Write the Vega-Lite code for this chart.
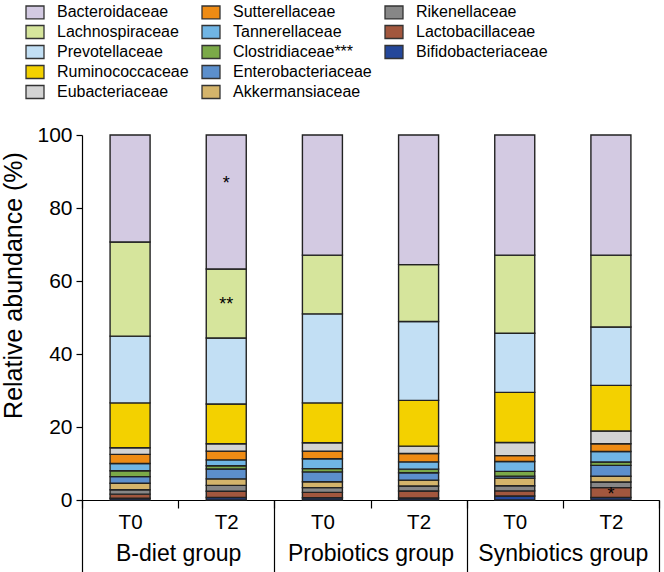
{
  "$schema": "https://vega.github.io/schema/vega-lite/v6.json",
  "width": 577,
  "height": 365,
  "autosize": {"type": "none"},
  "padding": {"left": 82, "top": 135, "right": 5, "bottom": 72},
  "config": {
    "font": "Liberation Sans",
    "view": {"stroke": null},
    "axis": {"labelFont": "Liberation Sans", "titleFont": "Liberation Sans", "labelColor": "#000", "titleColor": "#000", "domainColor": "#000", "tickColor": "#000", "grid": false}
  },
  "data": {
    "values": [
      {"g": "B-diet group", "t": "T0", "f": "Bifidobacteriaceae", "v": 0.5, "sig": ""},
      {"g": "B-diet group", "t": "T0", "f": "Lactobacillaceae", "v": 1.1, "sig": ""},
      {"g": "B-diet group", "t": "T0", "f": "Rikenellaceae", "v": 1.2, "sig": ""},
      {"g": "B-diet group", "t": "T0", "f": "Akkermansiaceae", "v": 1.8, "sig": ""},
      {"g": "B-diet group", "t": "T0", "f": "Enterobacteriaceae", "v": 1.8, "sig": ""},
      {"g": "B-diet group", "t": "T0", "f": "Clostridiaceae***", "v": 1.6, "sig": ""},
      {"g": "B-diet group", "t": "T0", "f": "Tannerellaceae", "v": 2.0, "sig": ""},
      {"g": "B-diet group", "t": "T0", "f": "Sutterellaceae", "v": 2.5, "sig": ""},
      {"g": "B-diet group", "t": "T0", "f": "Eubacteriaceae", "v": 1.8, "sig": ""},
      {"g": "B-diet group", "t": "T0", "f": "Ruminococcaceae", "v": 12.3, "sig": ""},
      {"g": "B-diet group", "t": "T0", "f": "Prevotellaceae", "v": 18.3, "sig": ""},
      {"g": "B-diet group", "t": "T0", "f": "Lachnospiraceae", "v": 25.8, "sig": ""},
      {"g": "B-diet group", "t": "T0", "f": "Bacteroidaceae", "v": 29.3, "sig": ""},

      {"g": "B-diet group", "t": "T2", "f": "Bifidobacteriaceae", "v": 0.7, "sig": ""},
      {"g": "B-diet group", "t": "T2", "f": "Lactobacillaceae", "v": 1.7, "sig": ""},
      {"g": "B-diet group", "t": "T2", "f": "Rikenellaceae", "v": 1.6, "sig": ""},
      {"g": "B-diet group", "t": "T2", "f": "Akkermansiaceae", "v": 1.8, "sig": ""},
      {"g": "B-diet group", "t": "T2", "f": "Enterobacteriaceae", "v": 2.7, "sig": ""},
      {"g": "B-diet group", "t": "T2", "f": "Clostridiaceae***", "v": 0.9, "sig": ""},
      {"g": "B-diet group", "t": "T2", "f": "Tannerellaceae", "v": 1.6, "sig": ""},
      {"g": "B-diet group", "t": "T2", "f": "Sutterellaceae", "v": 2.4, "sig": ""},
      {"g": "B-diet group", "t": "T2", "f": "Eubacteriaceae", "v": 2.0, "sig": ""},
      {"g": "B-diet group", "t": "T2", "f": "Ruminococcaceae", "v": 10.9, "sig": ""},
      {"g": "B-diet group", "t": "T2", "f": "Prevotellaceae", "v": 18.1, "sig": ""},
      {"g": "B-diet group", "t": "T2", "f": "Lachnospiraceae", "v": 18.9, "sig": "**"},
      {"g": "B-diet group", "t": "T2", "f": "Bacteroidaceae", "v": 36.7, "sig": "*"},

      {"g": "Probiotics group", "t": "T0", "f": "Bifidobacteriaceae", "v": 0.6, "sig": ""},
      {"g": "Probiotics group", "t": "T0", "f": "Lactobacillaceae", "v": 1.5, "sig": ""},
      {"g": "Probiotics group", "t": "T0", "f": "Rikenellaceae", "v": 1.3, "sig": ""},
      {"g": "Probiotics group", "t": "T0", "f": "Akkermansiaceae", "v": 1.6, "sig": ""},
      {"g": "Probiotics group", "t": "T0", "f": "Enterobacteriaceae", "v": 2.7, "sig": ""},
      {"g": "Probiotics group", "t": "T0", "f": "Clostridiaceae***", "v": 0.9, "sig": ""},
      {"g": "Probiotics group", "t": "T0", "f": "Tannerellaceae", "v": 2.7, "sig": ""},
      {"g": "Probiotics group", "t": "T0", "f": "Sutterellaceae", "v": 2.1, "sig": ""},
      {"g": "Probiotics group", "t": "T0", "f": "Eubacteriaceae", "v": 2.3, "sig": ""},
      {"g": "Probiotics group", "t": "T0", "f": "Ruminococcaceae", "v": 10.9, "sig": ""},
      {"g": "Probiotics group", "t": "T0", "f": "Prevotellaceae", "v": 24.4, "sig": ""},
      {"g": "Probiotics group", "t": "T0", "f": "Lachnospiraceae", "v": 16.1, "sig": ""},
      {"g": "Probiotics group", "t": "T0", "f": "Bacteroidaceae", "v": 32.9, "sig": ""},

      {"g": "Probiotics group", "t": "T2", "f": "Bifidobacteriaceae", "v": 0.55, "sig": ""},
      {"g": "Probiotics group", "t": "T2", "f": "Lactobacillaceae", "v": 1.9, "sig": ""},
      {"g": "Probiotics group", "t": "T2", "f": "Rikenellaceae", "v": 1.4, "sig": ""},
      {"g": "Probiotics group", "t": "T2", "f": "Akkermansiaceae", "v": 1.6, "sig": ""},
      {"g": "Probiotics group", "t": "T2", "f": "Enterobacteriaceae", "v": 2.0, "sig": ""},
      {"g": "Probiotics group", "t": "T2", "f": "Clostridiaceae***", "v": 1.0, "sig": ""},
      {"g": "Probiotics group", "t": "T2", "f": "Tannerellaceae", "v": 2.0, "sig": ""},
      {"g": "Probiotics group", "t": "T2", "f": "Sutterellaceae", "v": 2.3, "sig": ""},
      {"g": "Probiotics group", "t": "T2", "f": "Eubacteriaceae", "v": 2.0, "sig": ""},
      {"g": "Probiotics group", "t": "T2", "f": "Ruminococcaceae", "v": 12.55, "sig": ""},
      {"g": "Probiotics group", "t": "T2", "f": "Prevotellaceae", "v": 21.6, "sig": ""},
      {"g": "Probiotics group", "t": "T2", "f": "Lachnospiraceae", "v": 15.6, "sig": ""},
      {"g": "Probiotics group", "t": "T2", "f": "Bacteroidaceae", "v": 35.5, "sig": ""},

      {"g": "Synbiotics group", "t": "T0", "f": "Bifidobacteriaceae", "v": 1.1, "sig": ""},
      {"g": "Synbiotics group", "t": "T0", "f": "Lactobacillaceae", "v": 1.4, "sig": ""},
      {"g": "Synbiotics group", "t": "T0", "f": "Rikenellaceae", "v": 1.4, "sig": ""},
      {"g": "Synbiotics group", "t": "T0", "f": "Akkermansiaceae", "v": 2.1, "sig": ""},
      {"g": "Synbiotics group", "t": "T0", "f": "Enterobacteriaceae", "v": 0.55, "sig": ""},
      {"g": "Synbiotics group", "t": "T0", "f": "Clostridiaceae***", "v": 1.3, "sig": ""},
      {"g": "Synbiotics group", "t": "T0", "f": "Tannerellaceae", "v": 2.7, "sig": ""},
      {"g": "Synbiotics group", "t": "T0", "f": "Sutterellaceae", "v": 1.6, "sig": ""},
      {"g": "Synbiotics group", "t": "T0", "f": "Eubacteriaceae", "v": 3.6, "sig": ""},
      {"g": "Synbiotics group", "t": "T0", "f": "Ruminococcaceae", "v": 13.75, "sig": ""},
      {"g": "Synbiotics group", "t": "T0", "f": "Prevotellaceae", "v": 16.2, "sig": ""},
      {"g": "Synbiotics group", "t": "T0", "f": "Lachnospiraceae", "v": 21.4, "sig": ""},
      {"g": "Synbiotics group", "t": "T0", "f": "Bacteroidaceae", "v": 32.9, "sig": ""},

      {"g": "Synbiotics group", "t": "T2", "f": "Bifidobacteriaceae", "v": 0.7, "sig": ""},
      {"g": "Synbiotics group", "t": "T2", "f": "Lactobacillaceae", "v": 2.7, "sig": "*"},
      {"g": "Synbiotics group", "t": "T2", "f": "Rikenellaceae", "v": 1.55, "sig": ""},
      {"g": "Synbiotics group", "t": "T2", "f": "Akkermansiaceae", "v": 1.55, "sig": ""},
      {"g": "Synbiotics group", "t": "T2", "f": "Enterobacteriaceae", "v": 3.0, "sig": ""},
      {"g": "Synbiotics group", "t": "T2", "f": "Clostridiaceae***", "v": 0.9, "sig": ""},
      {"g": "Synbiotics group", "t": "T2", "f": "Tannerellaceae", "v": 2.9, "sig": ""},
      {"g": "Synbiotics group", "t": "T2", "f": "Sutterellaceae", "v": 2.1, "sig": ""},
      {"g": "Synbiotics group", "t": "T2", "f": "Eubacteriaceae", "v": 3.5, "sig": ""},
      {"g": "Synbiotics group", "t": "T2", "f": "Ruminococcaceae", "v": 12.5, "sig": ""},
      {"g": "Synbiotics group", "t": "T2", "f": "Prevotellaceae", "v": 16.0, "sig": ""},
      {"g": "Synbiotics group", "t": "T2", "f": "Lachnospiraceae", "v": 19.7, "sig": ""},
      {"g": "Synbiotics group", "t": "T2", "f": "Bacteroidaceae", "v": 32.9, "sig": ""}
    ]
  },
  "transform": [
    {"calculate": "datum.g + '|' + datum.t", "as": "bar"},
    {"calculate": "indexof(['Bifidobacteriaceae','Lactobacillaceae','Rikenellaceae','Akkermansiaceae','Enterobacteriaceae','Clostridiaceae***','Tannerellaceae','Sutterellaceae','Eubacteriaceae','Ruminococcaceae','Prevotellaceae','Lachnospiraceae','Bacteroidaceae'], datum.f)", "as": "rank"}
  ],
  "layer": [
    {
      "layer": [
        {
          "mark": {"type": "bar", "width": {"band": 0.416}, "stroke": "#222", "strokeWidth": 1.4},
          "encoding": {
            "x": {
              "field": "bar", "type": "nominal",
              "scale": {"domain": ["B-diet group|T0", "B-diet group|T2", "Probiotics group|T0", "Probiotics group|T2", "Synbiotics group|T0", "Synbiotics group|T2"], "paddingInner": 0, "paddingOuter": 0},
              "axis": {"orient": "bottom", "title": null, "labelAngle": 0, "labelExpr": "split(datum.label, '|')[1]", "tickBand": "extent", "tickSize": 8, "tickWidth": 1.2, "domainWidth": 1.2, "labelFontSize": 20.5, "labelPadding": 14, "labelBaseline": "middle"}
            },
            "y": {
              "field": "v", "type": "quantitative", "stack": "zero",
              "scale": {"domain": [0, 100], "nice": false},
              "axis": {"title": "Relative abundance (%)", "titleFontSize": 25, "titleFontWeight": "normal", "titleX": -69, "titleY": 150, "titleBaseline": "middle", "titleAngle": 270, "titleAlign": "center", "values": [0, 20, 40, 60, 80, 100], "labelFontSize": 21, "labelPadding": 4, "tickSize": 6, "tickWidth": 1.2, "domainWidth": 1.2}
            },
            "order": {"field": "rank", "type": "quantitative", "sort": "ascending"},
            "color": {
              "field": "f", "type": "nominal",
              "scale": {
                "domain": ["Bacteroidaceae", "Lachnospiraceae", "Prevotellaceae", "Ruminococcaceae", "Eubacteriaceae", "Sutterellaceae", "Tannerellaceae", "Clostridiaceae***", "Enterobacteriaceae", "Akkermansiaceae", "Rikenellaceae", "Lactobacillaceae", "Bifidobacteriaceae", " "],
                "range": ["#D3CAE2", "#D6E59C", "#C2DFF4", "#F3D100", "#D3D3D3", "#EE8B14", "#70B5E4", "#7BA948", "#5C8FCC", "#D4B46B", "#878787", "#A2573E", "#24479A", "#ffffff"]
              },
              "legend": {
                "title": null,
                "orient": "none",
                "legendX": -57,
                "legendY": -133,
                "columns": 3,
                "columnPadding": 10,
                "rowPadding": -0.5,
                "symbolType": "M-1,-0.72H1V0.72H-1Z",
                "symbolSize": 324,
                "symbolStrokeColor": "#333",
                "symbolStrokeWidth": 1.3,
                "symbolOpacity": 1,
                "labelFontSize": 16,
                "labelLimit": 300,
                "labelColor": "#000",
                "labelOffset": 12,
                "labelFont": "Liberation Sans",
                "encode": {"symbols": {"update": {"strokeOpacity": {"signal": "datum.value === ' ' ? 0 : 1"}}}}
              }
            }
          }
        },
        {
          "transform": [
            {"stack": "v", "groupby": ["bar"], "sort": [{"field": "rank", "order": "ascending"}], "as": ["v0", "v1"]},
            {"calculate": "(datum.v0 + datum.v1) / 2", "as": "mid"},
            {"filter": "datum.sig != '' && datum.f != 'Bacteroidaceae'"}
          ],
          "mark": {"type": "text", "fontSize": 18, "color": "#000", "baseline": "middle", "dy": 2},
          "encoding": {
            "x": {"field": "bar", "type": "nominal"},
            "y": {"field": "mid", "type": "quantitative", "title": "Relative abundance (%)"},
            "text": {"field": "sig"}
          }
        },
        {
          "transform": [
            {"stack": "v", "groupby": ["bar"], "sort": [{"field": "rank", "order": "ascending"}], "as": ["v0", "v1"]},
            {"calculate": "(datum.v0 + datum.v1) / 2", "as": "mid"},
            {"filter": "datum.sig != '' && datum.f == 'Bacteroidaceae'"}
          ],
          "mark": {"type": "text", "fontSize": 18, "color": "#000", "baseline": "middle", "dy": -18},
          "encoding": {
            "x": {"field": "bar", "type": "nominal"},
            "y": {"field": "mid", "type": "quantitative", "title": "Relative abundance (%)"},
            "text": {"field": "sig"}
          }
        }
      ]
    },
    {
      "mark": {"type": "tick", "opacity": 0},
      "encoding": {
        "x": {
          "field": "g", "type": "nominal",
          "scale": {"domain": ["B-diet group", "Probiotics group", "Synbiotics group"], "paddingInner": 0, "paddingOuter": 0},
          "axis": {"orient": "bottom", "title": null, "labelAngle": 0, "domain": false, "tickBand": "extent", "tickSize": 72, "tickWidth": 1.2, "labelFontSize": 23, "labelPadding": -19, "labelBaseline": "middle"}
        }
      }
    }
  ],
  "resolve": {"scale": {"x": "independent"}, "axis": {"x": "independent"}}
}
